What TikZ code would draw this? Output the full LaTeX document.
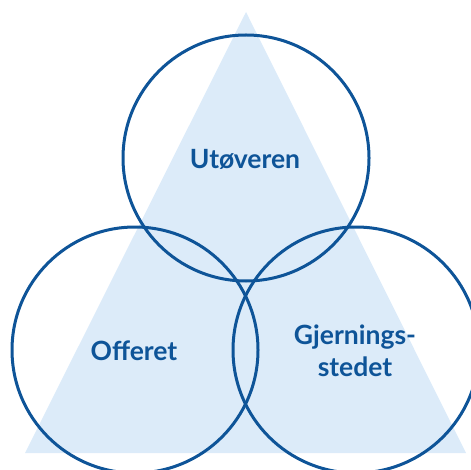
\documentclass[tikz,border=0pt]{standalone}
\usepackage{fontspec}
\setsansfont{Lato}
\usepackage{tikz}
\usetikzlibrary{positioning}
\definecolor{vBlue}{RGB}{14, 84, 152}
\definecolor{vLight}{RGB}{220, 235, 249}
\tikzset{
    base/.style={
        font=\sffamily\bfseries\fontsize{26.5}{32}\selectfont,
        align=center,
        text=vBlue
    },
    ring/.style={
        circle,
        draw=vBlue,
        line width=3pt,
        minimum size=246pt,
        inner sep=0pt
    },
    tri/.style={
        fill=vLight,
        draw=none
    }
}
\begin{document}
\begin{tikzpicture}[x=1pt, y=-1pt]
  \useasboundingbox (0,0) rectangle (470,470);

  % Triangle in the background
  \coordinate (apex) at (246,12);
  \coordinate (baseL) at (25,453);
  \coordinate (baseR) at (466,453);
  \fill[tri] (apex) -- (baseL) -- (baseR) -- cycle;

  % Circles
  \node[ring] (top) at (246,158) {};
  \node[ring] (left) at (135,350) {};
  \node[ring] (right) at (356,350) {};

  % Labels
  \node[base] (topText) at (245,159) {Utøveren};
  \node[base] (leftText) at (134,351) {Offeret};
  \node[base] (rightText) at (355,351) {Gjernings-\\stedet};
\end{tikzpicture}
\end{document}
